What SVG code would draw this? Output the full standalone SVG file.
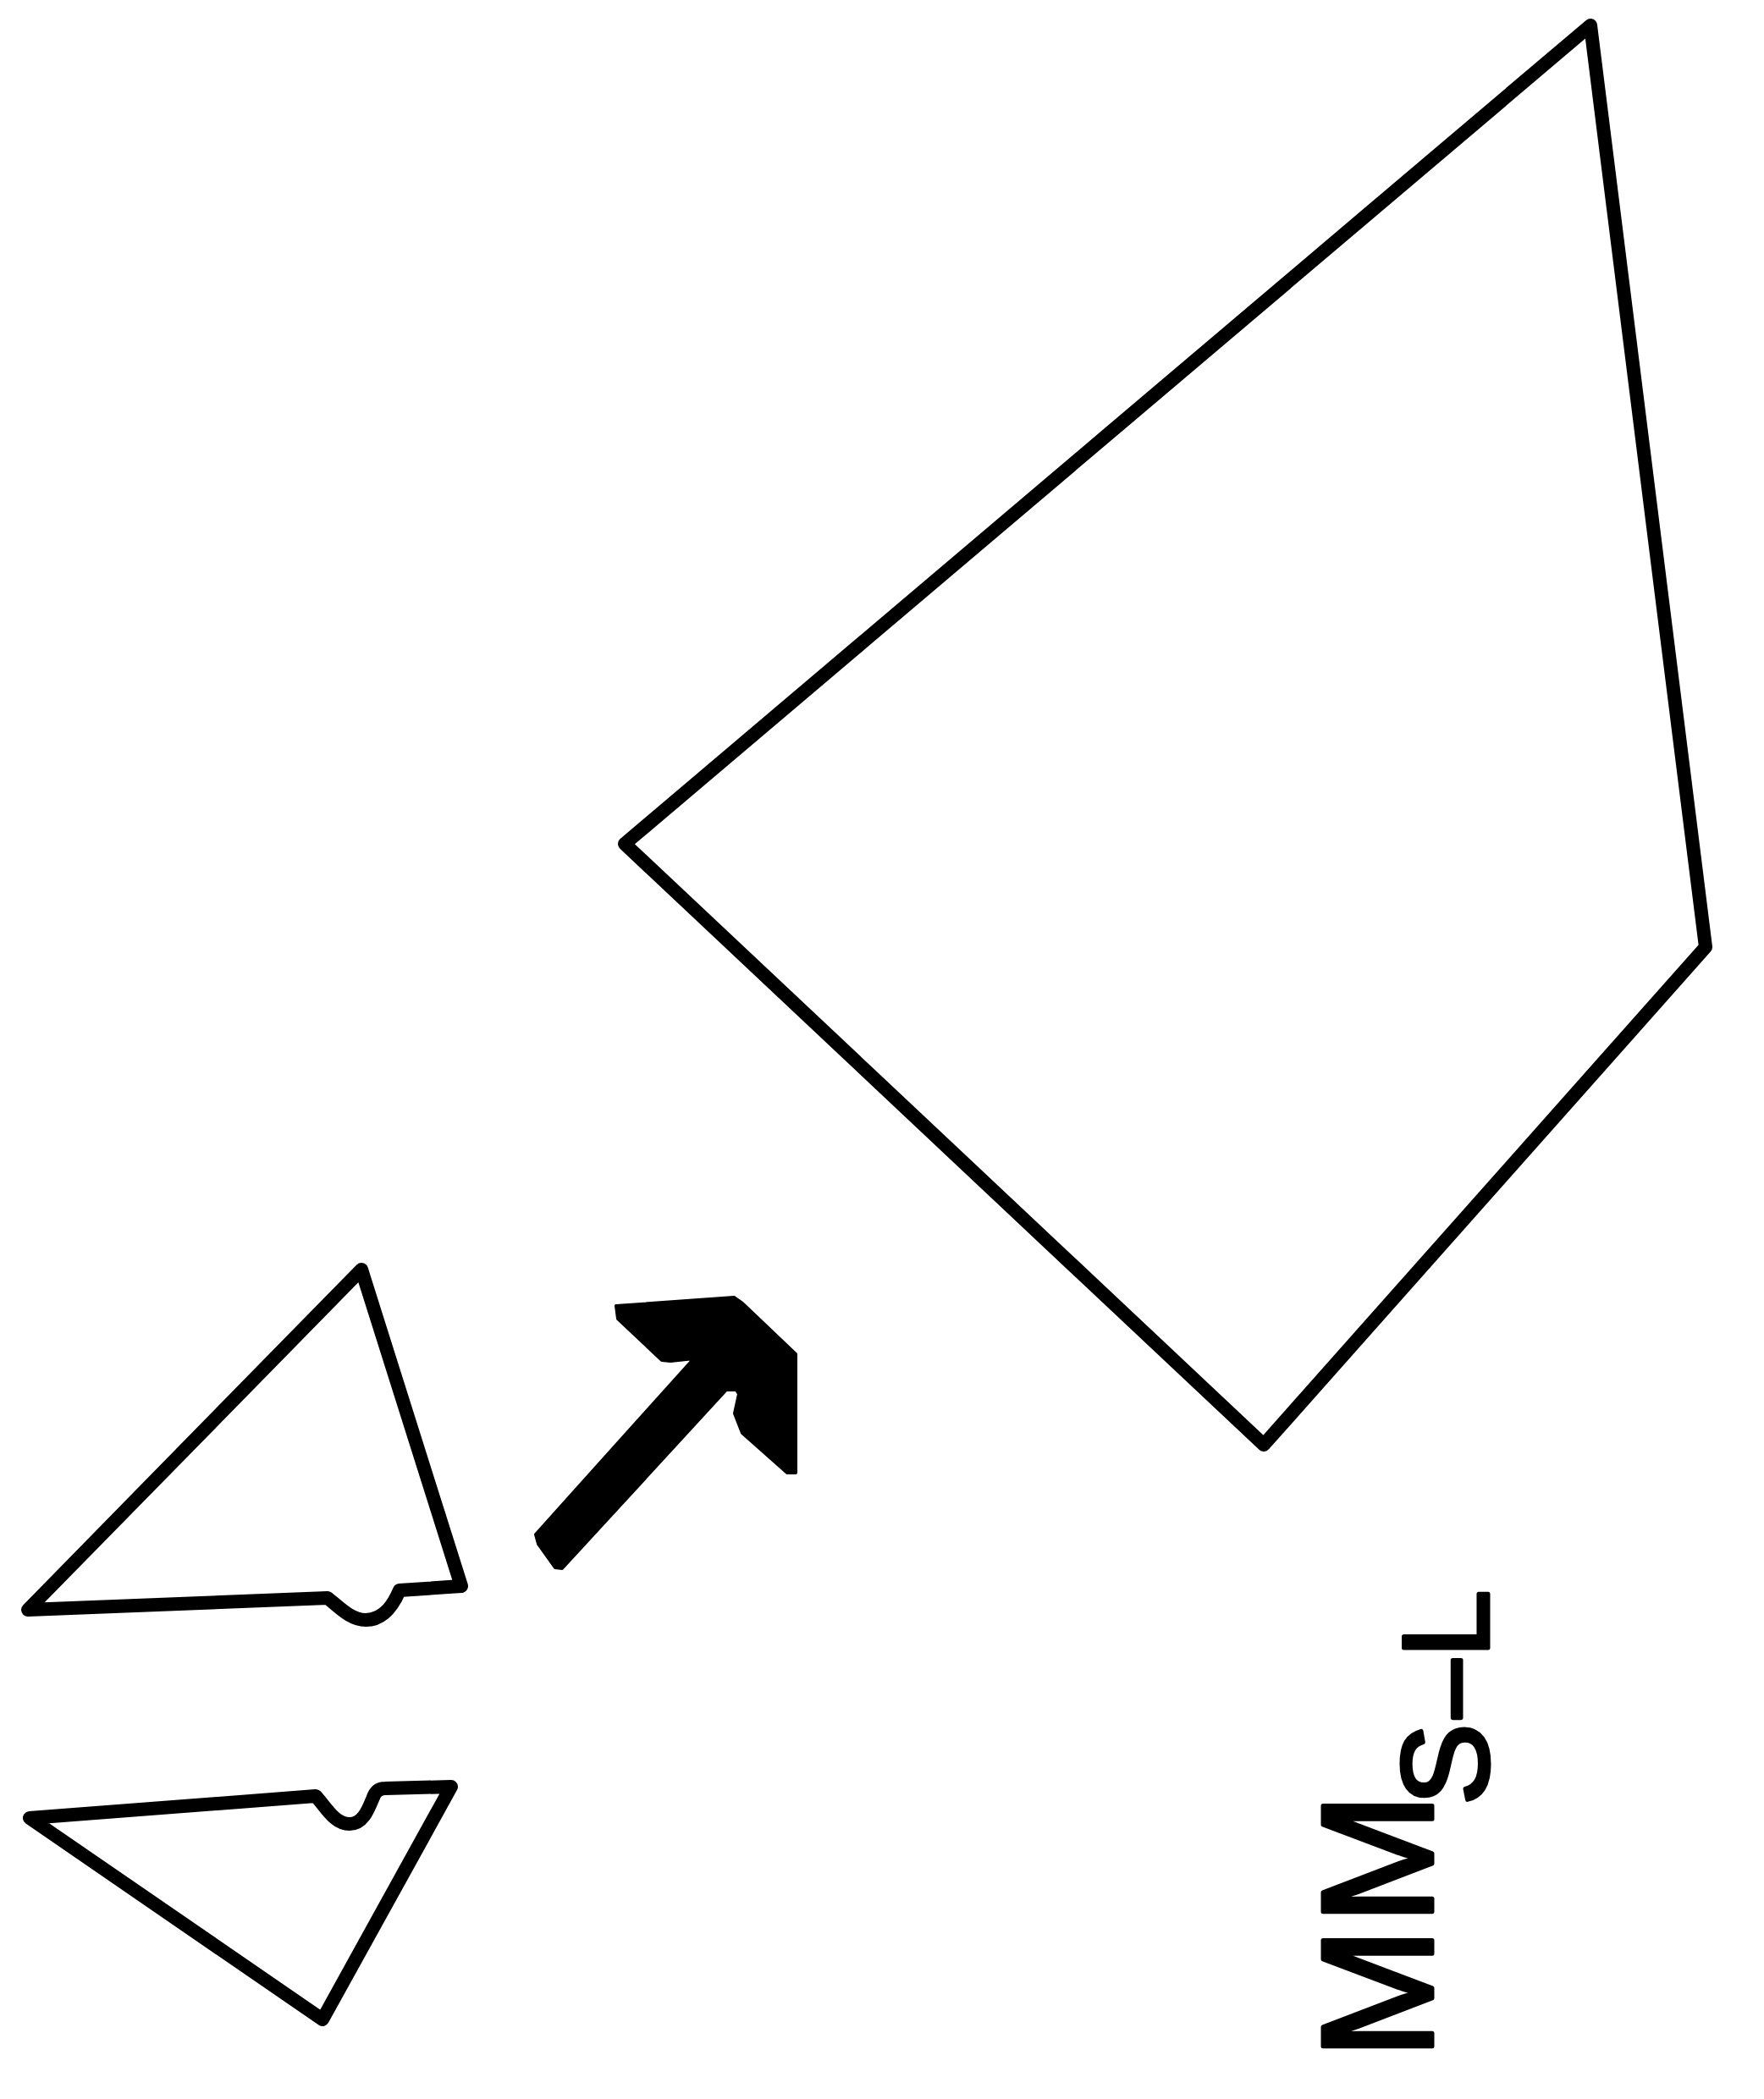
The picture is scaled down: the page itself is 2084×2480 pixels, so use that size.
<svg xmlns="http://www.w3.org/2000/svg" width="2084" height="2480" viewBox="0 0 2084 2480">
  <style>
    .outline { fill: none; stroke: #000; stroke-width: 16; stroke-linejoin: round; stroke-linecap: round; }
    .arrow { fill: #000; stroke: #000; stroke-width: 4; stroke-linejoin: round; }
    .lbl { font-family: "Liberation Sans", Arial, sans-serif; fill: #000; stroke: #000; stroke-width: 5; stroke-linejoin: round; }
  </style>
  <rect width="2084" height="2480" fill="#fff"/>
  <g id="large-polygon">
    <path class="outline" d="M1879,30 L2015,1119 L1493,1707 L738,997 Z"/>
  </g>
  <g id="triangle-upper">
    <path class="outline" d="M427,1500 L545,1874 L472,1879 C466,1893 455,1914 432,1914 C414,1914 400,1898 387,1888 L33,1902 Z"/>
  </g>
  <g id="triangle-lower">
    <path class="outline" d="M35,2148 L373,2122 C385,2135 395,2155 413,2155 C430,2155 436,2135 442,2121 C445,2115 450,2113 455,2113 L533,2111 L381,2386 Z"/>
  </g>
  <g id="connectors">
    <path class="arrow" d="M728,1543 L867,1533 L877,1540 L940,1600 L940,1740 L930,1740 L877,1693 L868,1670 L873,1647 L870,1642 L858,1642 L664,1853 L656,1852 L636,1824 L633,1813 L820,1605 L792,1608 L782,1607 L730,1558 Z"/>
  </g>
  <g id="label" transform="translate(1692,2480) rotate(-90)">
    <text class="lbl" font-size="187" x="47" y="0">M</text>
    <text class="lbl" font-size="187" x="206" y="0">M</text>
    <text class="lbl" font-size="145" x="347" y="66">S</text>
    <text class="lbl" font-size="145" x="450" y="66" textLength="69" lengthAdjust="spacingAndGlyphs">–</text>
    <text class="lbl" font-size="145" x="521" y="66">L</text>
  </g>
</svg>
